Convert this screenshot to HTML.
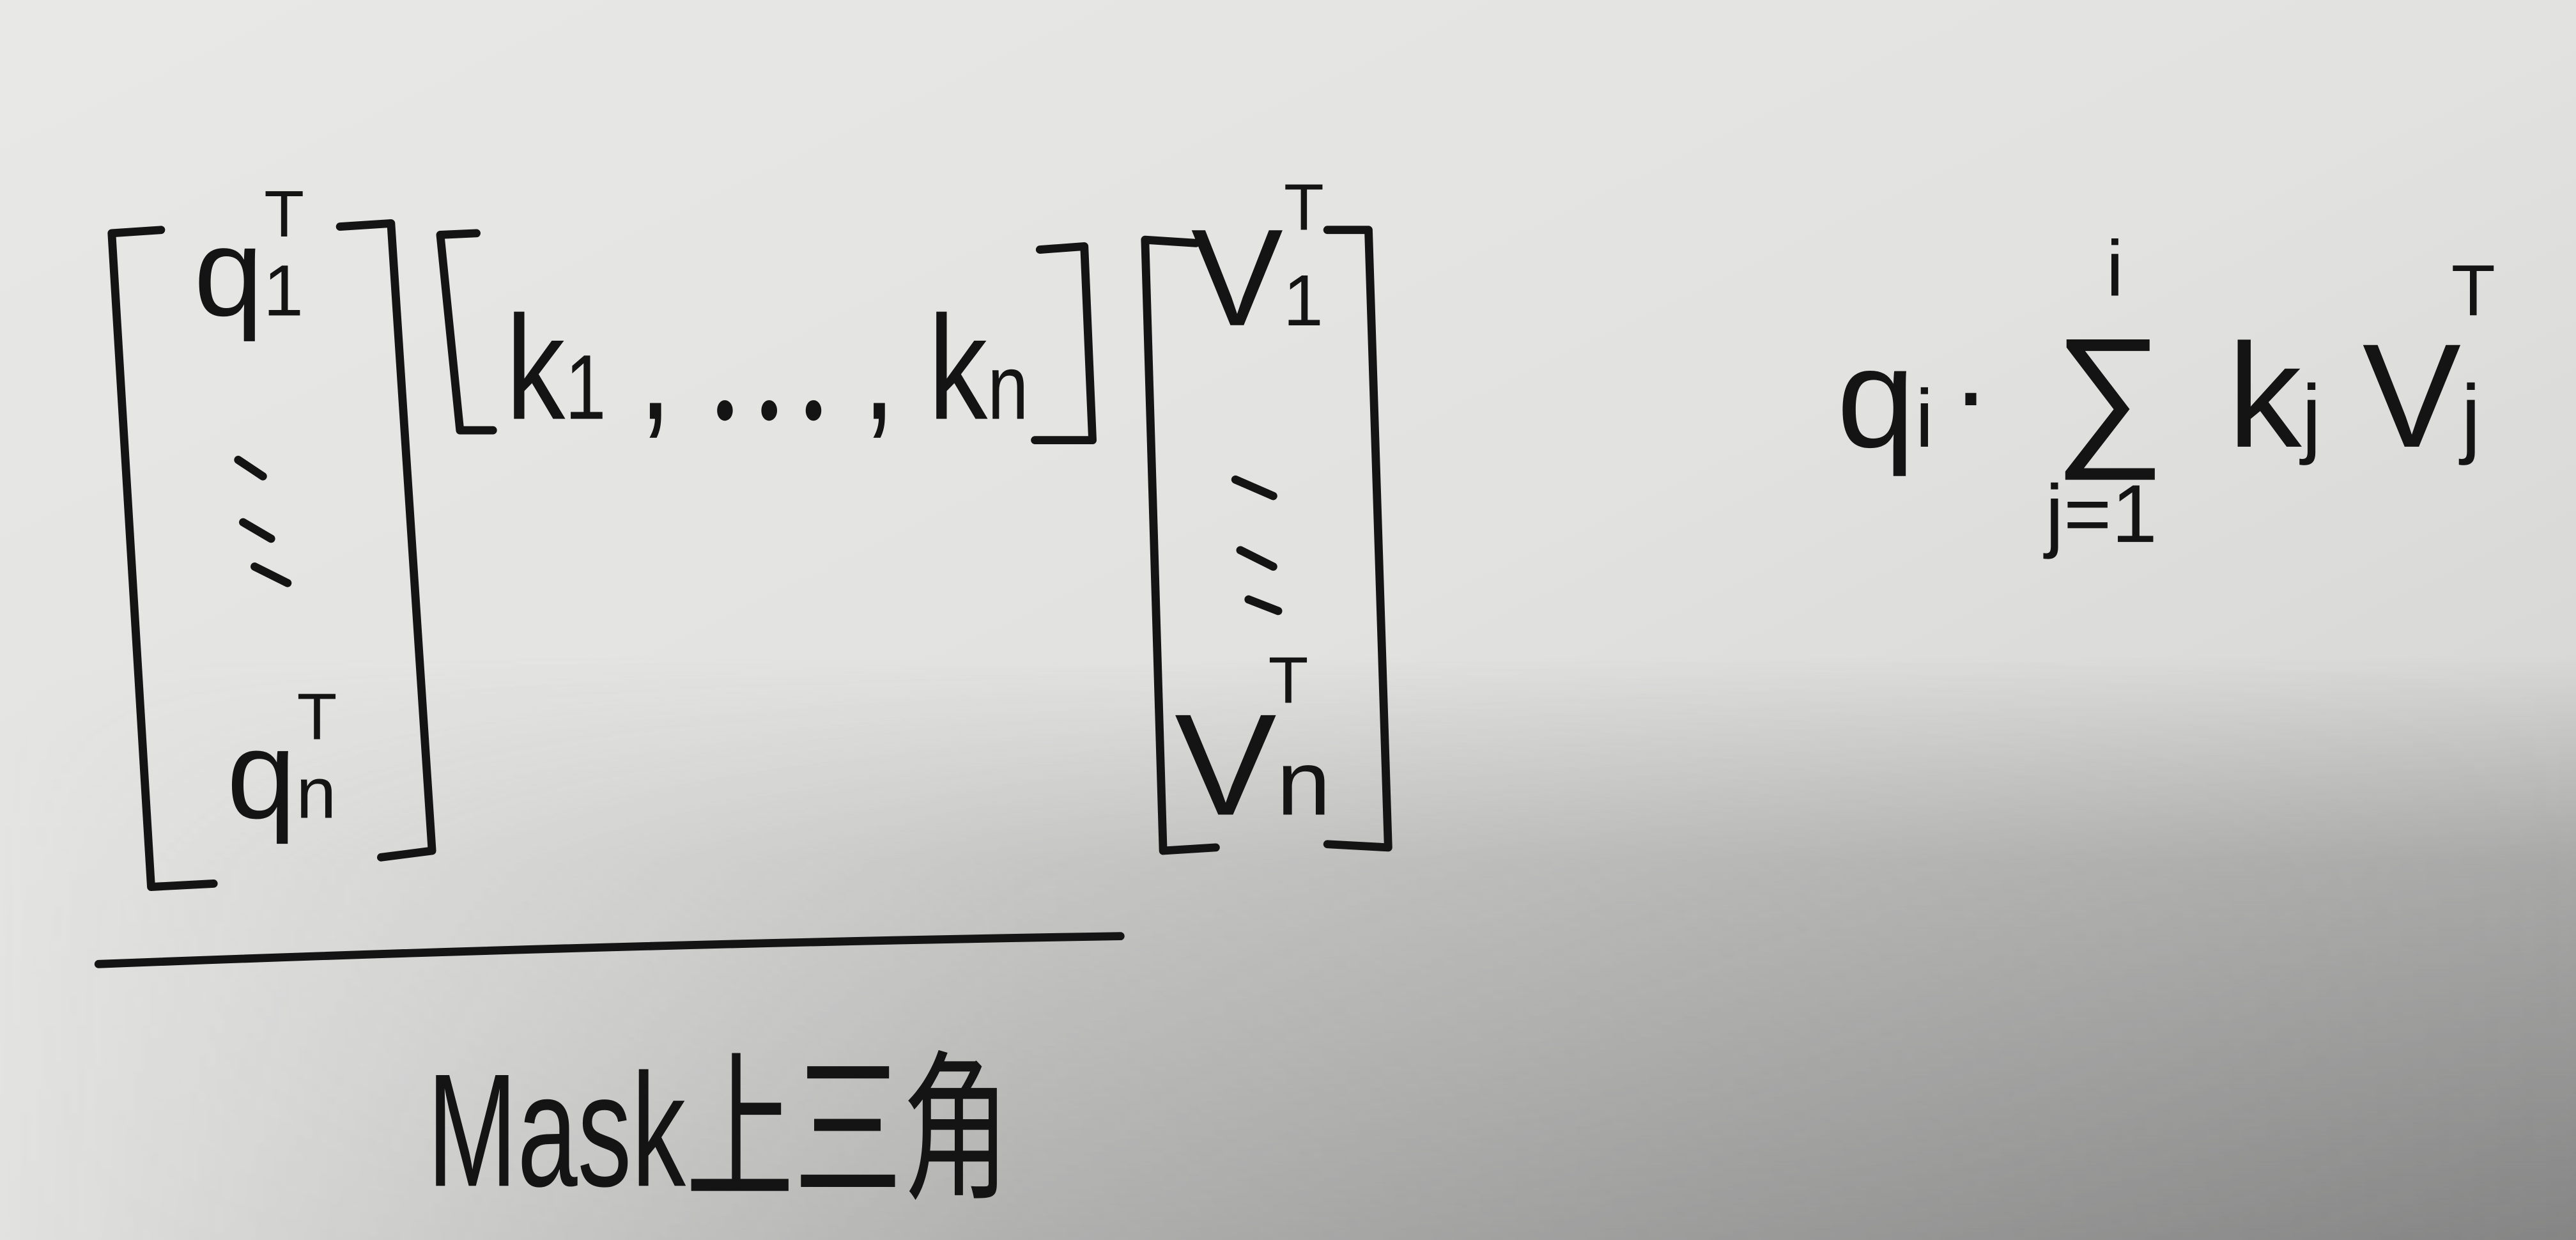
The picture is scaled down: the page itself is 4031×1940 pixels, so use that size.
<!DOCTYPE html>
<html><head><meta charset="utf-8"><style>
html,body{margin:0;padding:0;width:4031px;height:1940px;overflow:hidden;background:#e6e6e4}
svg{display:block}
text{font-family:"Liberation Sans","Noto Sans CJK SC",sans-serif;fill:#141414}
</style></head><body>
<svg width="4031" height="1940" viewBox="0 0 1568 755" preserveAspectRatio="none" xmlns="http://www.w3.org/2000/svg">
<defs>
<linearGradient id="bg" x1="0" y1="0" x2="1" y2="1">
<stop offset="0" stop-color="#e8e8e6"/><stop offset="0.5" stop-color="#e2e2e0"/><stop offset="1" stop-color="#d0d0ce"/>
</linearGradient>
<linearGradient id="sh" x1="0" y1="0" x2="0" y2="1">
<stop offset="0" stop-color="#8a8a8a" stop-opacity="0"/><stop offset="0.35" stop-color="#8a8a8a" stop-opacity="0.6"/><stop offset="1" stop-color="#808080" stop-opacity="0.95"/>
</linearGradient>
<linearGradient id="shx" x1="0" y1="0" x2="1" y2="0">
<stop offset="0" stop-color="#fff" stop-opacity="0"/><stop offset="0.4" stop-color="#fff" stop-opacity="0.5"/><stop offset="1" stop-color="#fff" stop-opacity="1"/>
</linearGradient>
<mask id="m"><rect x="0" y="0" width="1568" height="755" fill="url(#shx)"/></mask>
</defs>
<rect x="0" y="0" width="1568" height="755" fill="url(#bg)"/>
<rect x="0" y="400" width="1568" height="355" fill="url(#sh)" mask="url(#m)"/>
<g fill="none" stroke="#141414" stroke-width="5" stroke-linecap="round" stroke-linejoin="round">
<path d="M98 140 L68 142 L92 540 L130 538"/>
<path d="M207 138 L238 136 L263 518 L232 522"/>
<path d="M290 142 L268 143 L280 262 L300 262"/>
<path d="M633 152 L660 150 L665 268 L630 268"/>
<path d="M728 148 L697 146 L708 518 L740 516"/>
<path d="M808 140 L833 140 L845 516 L808 514"/>
<path d="M60 587 Q370 575 682 570"/>
<path d="M145 280 L160 290 M148 318 L165 328 M155 345 L175 355"/>
<path d="M752 292 L775 302 M755 335 L775 345 M760 365 L778 372"/>
</g>
<text x="118" y="192" font-size="76">q<tspan font-size="44" dy="0">1</tspan><tspan font-size="40" dx="-24" dy="-48">T</tspan></text>
<text x="138" y="498" font-size="76">q<tspan font-size="44">n</tspan><tspan font-size="40" dx="-24" dy="-48">T</tspan></text>
<text x="308" y="255" font-size="90" textLength="318" lengthAdjust="spacingAndGlyphs">k<tspan font-size="56">1</tspan> , ⋯ , k<tspan font-size="56">n</tspan></text>
<text x="725" y="198" font-size="84">V<tspan font-size="44">1</tspan><tspan font-size="40" dx="-24" dy="-58">T</tspan></text>
<text x="715" y="496" font-size="88" textLength="95" lengthAdjust="spacingAndGlyphs">V<tspan font-size="56">n</tspan></text>
<text x="772" y="428" font-size="40">T</text>
<text x="260" y="722" font-size="98" textLength="355" lengthAdjust="spacingAndGlyphs">Mask上三角</text>
<text x="1118" y="272" font-size="86">q<tspan font-size="50">i</tspan></text>
<text x="1188" y="262" font-size="70">·</text>
<text x="1250" y="272" font-size="95">∑</text>
<text x="1282" y="180" font-size="48">i</text>
<text x="1245" y="330" font-size="50">j=1</text>
<text x="1356" y="272" font-size="90">k<tspan font-size="54">j</tspan> V<tspan font-size="54">j</tspan><tspan font-size="44" dx="-18" dy="-80">T</tspan></text>
</svg>
</body></html>
